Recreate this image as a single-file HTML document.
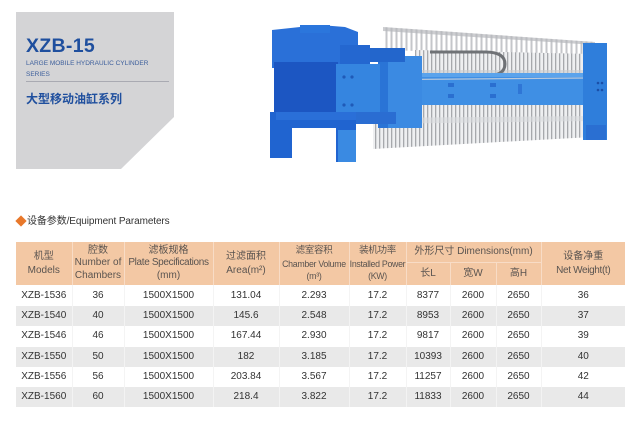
<!DOCTYPE html>
<html>
<head>
<meta charset="utf-8">
<style>
  html,body{margin:0;padding:0;background:#fff;}
  body{width:643px;height:422px;position:relative;overflow:hidden;font-family:"Liberation Sans","Noto Sans CJK SC",sans-serif;}
  .abs{position:absolute;}
  #title{left:26px;top:34px;font-size:19.5px;font-weight:bold;color:#1f4f9e;letter-spacing:0.3px;line-height:24px;white-space:nowrap;}
  #sub{left:26px;top:59px;font-size:6.5px;color:#3d5f9c;line-height:10.5px;white-space:nowrap;}
  #rule{left:26px;top:81px;width:143px;height:1px;background:#a9aab2;}
  #cn{left:26px;top:91px;font-size:12px;font-weight:bold;color:#1f4f9e;line-height:16px;white-space:nowrap;font-family:"Liberation Sans","Noto Sans CJK SC",sans-serif;}
  #sec{left:27px;top:214px;font-size:10px;color:#333;line-height:15px;white-space:nowrap;letter-spacing:-0.1px;}
  #dia{left:17px;top:217px;width:8px;height:8px;background:#e8782b;transform:rotate(45deg);}
  table{position:absolute;left:16px;top:242px;border-collapse:collapse;table-layout:fixed;width:609px;}
  td{padding:0;text-align:center;vertical-align:middle;white-space:nowrap;overflow:hidden;}
  thead td{background:#f3c8a4;color:#5a5450;font-size:10px;line-height:12.5px;border-left:1px solid #f8dcc6;border-right:1px solid #f8dcc6;}
  thead td.sm{font-size:8.8px;letter-spacing:-0.3px;}
  thead td .e{letter-spacing:-0.35px;}
  thead tr.h2 td{border-top:1px solid #f8dcc6;}
  tbody td{font-size:10px;color:#333;height:20.3px;line-height:20px;border-left:1px solid #f4f4f4;border-right:1px solid #f4f4f4;}
  tbody tr:first-child td{height:21px;}
  tbody tr:nth-child(even) td{background:#e9e9e9;border-left:1px solid #f3f3f3;border-right:1px solid #f3f3f3;}
  td:first-child{border-left:none !important;}
  td:last-child{border-right:none !important;}
</style>
</head>
<body>
<svg class="abs" style="left:0;top:0" width="643" height="422" viewBox="0 0 643 422">
  <defs>
    <pattern id="pl" width="4" height="10" patternUnits="userSpaceOnUse">
      <rect width="4" height="10" fill="#a6a8ac"/>
      <rect x="0.3" width="2.7" height="10" fill="#eeeff1"/>
    </pattern>
    <pattern id="pl2" width="5" height="10" patternUnits="userSpaceOnUse">
      <rect width="5" height="10" fill="#ffffff"/>
      <rect x="0.5" width="2" height="10" fill="#c4c6ca"/>
    </pattern>
  </defs>
  <!-- title box -->
  <polygon points="16,12 174,12 174,117 121,169 16,169" fill="#d4d4d6"/>

  <!-- machine -->
  <!-- upper handles -->
  <polygon points="383,27 595,42 595,56 383,50" fill="url(#pl2)"/>
  <polygon points="383,27 595,42 595,45 383,31" fill="#b6b8bc" opacity="0.7"/>
  <!-- upper plates -->
  <polygon points="415,50 592,54 592,75 415,75" fill="url(#pl)"/>
  <rect x="415" y="70" width="177" height="5" fill="#c9cbce" opacity="0.6"/>
  <!-- cable chain -->
  <path d="M430,52 L485,52 Q505,52 505,64 Q505,76 485,76 L470,76" fill="none" stroke="#6f7276" stroke-width="3"/>
  <!-- lower plates -->
  <polygon points="373,104 592,104 592,137 373,149" fill="url(#pl)"/>
  <polygon points="373,118 592,116 592,121 373,124" fill="#d9dadd" opacity="0.6"/>
  <!-- beam -->
  <rect x="358" y="73" width="232" height="32" fill="#3f8fe4"/>
  <rect x="358" y="73" width="232" height="4" fill="#5aa3ec"/>
  <line x1="340" y1="80" x2="585" y2="78" stroke="#b8c8dc" stroke-width="1.2"/>
  <rect x="448" y="83" width="6" height="4" fill="#2a6fd0"/>
  <rect x="448" y="94" width="6" height="4" fill="#2a6fd0"/>
  <rect x="490" y="83" width="6" height="4" fill="#2a6fd0"/>
  <rect x="490" y="94" width="6" height="4" fill="#2a6fd0"/>
  <rect x="518" y="84" width="4" height="10" fill="#2f76d6"/>
  <!-- right end -->
  <rect x="583" y="43" width="24" height="97" fill="#2f7edb"/>
  <rect x="586" y="125" width="20" height="15" fill="#2a6fd2"/>
  <circle cx="598" cy="83" r="1.3" fill="#1b4fa8"/>
  <circle cx="602" cy="83" r="1.3" fill="#1b4fa8"/>
  <circle cx="598" cy="90" r="1.3" fill="#1b4fa8"/>
  <circle cx="602" cy="90" r="1.3" fill="#1b4fa8"/>
  <!-- middle block -->
  <rect x="378" y="56" width="44" height="72" fill="#3b8ae2"/>
  <rect x="378" y="56" width="10" height="72" fill="#2a74d6"/>
  <rect x="360" y="48" width="45" height="14" fill="#2366cc"/>
  <!-- left head top mechanism -->
  <polygon points="272,30 300,27 320,25 345,27 358,32 358,68 272,68" fill="#2a70d8"/>
  <rect x="300" y="25" width="30" height="8" fill="#2b76dc"/>
  <rect x="340" y="45" width="30" height="20" fill="#2467d0"/>
  <!-- main body -->
  <rect x="274" y="62" width="64" height="52" fill="#1c56c2"/>
  <rect x="336" y="64" width="44" height="58" fill="#3585e0"/>
  <circle cx="344" cy="77" r="1.6" fill="#1f5ab8"/>
  <circle cx="352" cy="77" r="1.6" fill="#1f5ab8"/>
  <circle cx="344" cy="105" r="1.6" fill="#1f5ab8"/>
  <circle cx="352" cy="105" r="1.6" fill="#1f5ab8"/>
  <!-- legs -->
  <path d="M270,112 L356,112 L356,162 L336,162 L336,128 L292,128 L292,158 L270,158 Z" fill="#2064d0"/>
  <rect x="276" y="112" width="80" height="8" fill="#2a6fd8"/>
  <rect x="338" y="130" width="18" height="32" fill="#3a8ae2"/>
  <rect x="356" y="112" width="40" height="12" fill="#2a6dd2"/>
</svg>

<div id="title" class="abs">XZB-15</div>
<div id="sub" class="abs">LARGE MOBILE HYDRAULIC CYLINDER<br>SERIES</div>
<div id="rule" class="abs"></div>
<div id="cn" class="abs">大型移动油缸系列</div>

<div id="dia" class="abs"></div>
<div id="sec" class="abs">设备参数/Equipment Parameters</div>

<table>
  <colgroup>
    <col style="width:56px"><col style="width:52px"><col style="width:89px"><col style="width:66px"><col style="width:70px"><col style="width:57px"><col style="width:44px"><col style="width:46px"><col style="width:45px"><col style="width:84px">
  </colgroup>
  <thead>
    <tr style="height:20px">
      <td rowspan="2" style="line-height:14px">机型<br>Models</td>
      <td rowspan="2">腔数<br>Number of<br>Chambers</td>
      <td rowspan="2">滤板规格<br><span class="e">Plate Specifications</span><br>(mm)</td>
      <td rowspan="2" style="line-height:14px">过滤面积<br>Area(m²)</td>
      <td rowspan="2" class="sm"><span style="font-size:9.5px">滤室容积</span><br>Chamber Volume<br>(m³)</td>
      <td rowspan="2" class="sm"><span style="font-size:9.5px">装机功率</span><br>Installed Power<br>(KW)</td>
      <td colspan="3">外形尺寸 Dimensions(mm)</td>
      <td rowspan="2" style="line-height:14px">设备净重<br><span class="e">Net Weight(t)</span></td>
    </tr>
    <tr class="h2" style="height:23px">
      <td>长L</td><td>宽W</td><td>高H</td>
    </tr>
  </thead>
  <tbody>
    <tr><td>XZB-1536</td><td>36</td><td>1500X1500</td><td>131.04</td><td>2.293</td><td>17.2</td><td>8377</td><td>2600</td><td>2650</td><td>36</td></tr>
    <tr><td>XZB-1540</td><td>40</td><td>1500X1500</td><td>145.6</td><td>2.548</td><td>17.2</td><td>8953</td><td>2600</td><td>2650</td><td>37</td></tr>
    <tr><td>XZB-1546</td><td>46</td><td>1500X1500</td><td>167.44</td><td>2.930</td><td>17.2</td><td>9817</td><td>2600</td><td>2650</td><td>39</td></tr>
    <tr><td>XZB-1550</td><td>50</td><td>1500X1500</td><td>182</td><td>3.185</td><td>17.2</td><td>10393</td><td>2600</td><td>2650</td><td>40</td></tr>
    <tr><td>XZB-1556</td><td>56</td><td>1500X1500</td><td>203.84</td><td>3.567</td><td>17.2</td><td>11257</td><td>2600</td><td>2650</td><td>42</td></tr>
    <tr><td>XZB-1560</td><td>60</td><td>1500X1500</td><td>218.4</td><td>3.822</td><td>17.2</td><td>11833</td><td>2600</td><td>2650</td><td>44</td></tr>
  </tbody>
</table>
</body>
</html>
